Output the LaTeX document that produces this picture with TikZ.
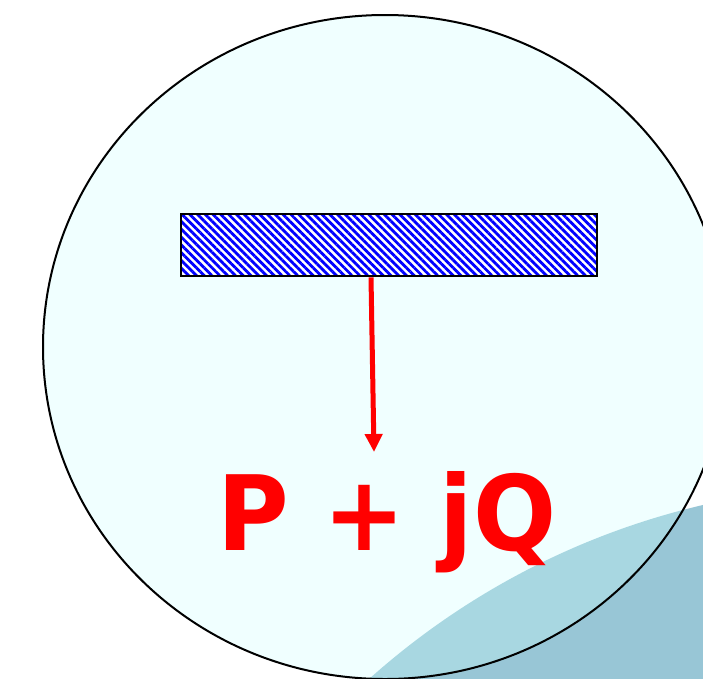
\documentclass[tikz,border=0pt]{standalone}
\usepackage{fontspec}
\usepackage{xcolor}
\usepackage{tikz}
\usetikzlibrary{arrows.meta, positioning, patterns.meta}

\newfontfamily\lblfont{DejaVu Sans}
\definecolor{disc}{HTML}{F0FFFF}
\definecolor{tealout}{HTML}{98C6D6}
\definecolor{tealin}{HTML}{A8D7E1}

\begin{document}
\begin{tikzpicture}[
  x=1pt, y=-1pt,
  bar/.style={rectangle, draw=black, line width=2pt, minimum width=416pt, minimum height=62pt, inner sep=0pt,
    preaction={fill=white}, pattern={Lines[angle=-45, distance=5.5pt, line width=2.8pt]}, pattern color=blue},
  lbl/.style={font=\lblfont\bfseries\fontsize{104}{110}\selectfont, text=red, inner sep=0pt},
  arr/.style={-{Triangle[length=18pt, width=17pt]}, red, line width=5pt},
]

% Frame
\useasboundingbox (0,0) rectangle (703,678);
\clip (0,0) rectangle (703,678);
\fill[white] (0,0) rectangle (703,678);

% Teal blob, then the disc over it
\fill[tealout] (877,1247) circle [radius=762pt];
\fill[disc] (385,347) ellipse [x radius=342pt, y radius=332pt];
\begin{scope}
  \clip (385,347) ellipse [x radius=342pt, y radius=332pt];
  \fill[tealin] (877,1247) circle [radius=762pt];
\end{scope}
\draw[line width=2pt] (385,347) ellipse [x radius=342pt, y radius=332pt];

% Bar and label
\node[bar] (bar) at (389,245) {};
\node[lbl, anchor=base] (pq) at (387,550) {\scalebox{0.94}[1]{P + jQ}};

% Arrow
\coordinate (tip) at (374,452);
\draw[arr] ([xshift=-18pt]bar.south) -- (tip);

\end{tikzpicture}
\end{document}
